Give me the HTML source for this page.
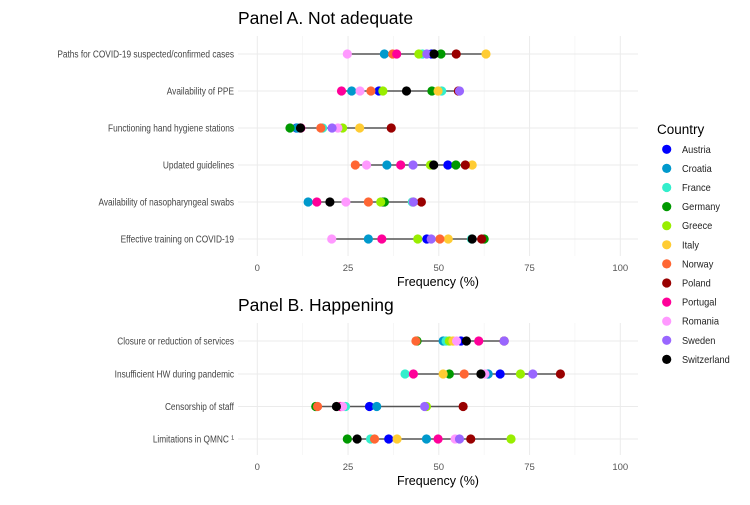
<!DOCTYPE html>
<html><head><meta charset="utf-8">
<style>
body{margin:0;background:#fff;}
svg{font-family:"Liberation Sans",sans-serif;}
</style></head>
<body>
<svg id="chart" width="750" height="500" xmlns="http://www.w3.org/2000/svg"></svg>
<script>
const countries=["Austria","Croatia","France","Germany","Greece","Italy","Norway","Poland","Portugal","Romania","Sweden","Switzerland"];
const colors=["#0000FF","#0099CC","#33EECC","#009900","#99EE00","#FFCC33","#FF6633","#990000","#FF0099","#FF99FF","#9966FF","#000000"];
const catsA=["Paths for COVID-19 suspected/confirmed cases","Availability of PPE","Functioning hand hygiene stations","Updated guidelines","Availability of nasopharyngeal swabs","Effective training on COVID-19"];
// values order follows countries
const valsA=[
[48,35,45.5,50.6,44.5,63,37.3,54.8,38.4,24.8,46.7,48.7],
[33.5,26,50.8,48.1,34.6,49.8,31.3,55.4,23.2,28.3,55.7,41.1],
[10.8,11,18,9,23.5,28.2,17.5,36.9,12,22.2,20.6,11.9],
[52.5,35.7,48,54.7,47.7,59.2,27,57.3,39.5,30.1,42.9,48.6],
[34.5,14,42.7,35,34,43,30.6,45.2,16.4,24.4,43,20],
[46.7,30.6,59,62.5,44.2,52.6,50.3,61.8,34.3,20.5,47.9,59.2]];
const catsB=["Closure or reduction of services","Insufficient HW during pandemic","Censorship of staff","Limitations in QMNC \u00b9"];
const valsB=[
[56.1,51.2,52,44,52.9,53.9,43.7,68,61,54.9,68,57.6],
[66.9,63.6,40.7,52.9,72.5,51.2,57,83.5,43,62.7,75.9,61.6],
[30.9,32.9,24.3,16.1,46.6,23,16.6,56.7,23,23.5,46.1,21.8],
[36.2,46.6,31.2,24.8,69.9,38.5,32.3,58.8,49.8,54.5,55.7,27.5]];
const ticks=[0,25,50,75,100];
const NS="http://www.w3.org/2000/svg";
const svg=document.getElementById('chart');
function mk(t,a,p){const e=document.createElementNS(NS,t);for(const k in a)e.setAttribute(k,a[k]);(p||svg).appendChild(e);return e;}
function squeeze(el,f){const w=el.getComputedTextLength();el.setAttribute('textLength',w*f);el.setAttribute('lengthAdjust','spacingAndGlyphs');}
const x=v=>257.3+v*3.63;
function panel(title,cats,vals,top,bottom,rowY,name){
  const g=mk('g',{});
  
  
  const t=mk('text',{x:238,y:top-12,'font-size':17.5,fill:'#000'},g);t.textContent=title;
  
  
  for(let v=0;v<=100;v+=12.5){mk('line',{x1:x(v),x2:x(v),y1:top,y2:bottom,stroke:v%25==0?'#ebebeb':'#f3f3f3','stroke-width':v%25==0?1:0.7},g);}
  rowY.forEach(y=>mk('line',{x1:238,x2:638,y1:y,y2:y,stroke:'#ebebeb'},g));
  ticks.forEach(v=>{const l=mk('text',{x:x(v),y:bottom+15,'font-size':9.5,fill:'#555','text-anchor':'middle'},g);l.textContent=v;
    
    });
  const at=mk('text',{x:438,y:bottom+30,'font-size':12.5,fill:'#000','text-anchor':'middle'},g);at.textContent='Frequency (%)';
  
  
  cats.forEach((c,i)=>{
    const y=rowY[i];
    const lb=mk('text',{x:234,y:y+3.5,'font-size':10,fill:'#444','text-anchor':'end'},g);lb.textContent=c;
    squeeze(lb,0.83);
    
    
    const vs=vals[i];
    const ln=mk('line',{x1:x(Math.min(...vs)),x2:x(Math.max(...vs)),y1:y,y2:y,stroke:'#555','stroke-width':1.6},g);
    
    
    vs.forEach((v,j)=>{const d=mk('circle',{cx:x(v),cy:y,r:4.6,fill:colors[j]},g);
      
      });
  });
}
panel('Panel A. Not adequate',catsA,valsA,36,256,[54,91,128,165,202,239],'panel-a');
panel('Panel B. Happening',catsB,valsB,323,455,[341,374,406.5,439],'panel-b');
const lg=mk('g',{});


const lt=mk('text',{x:657,y:134,'font-size':13.5,fill:'#000'},lg);lt.textContent='Country';


countries.forEach((c,i)=>{const y=149.3+i*19.1;
  const d=mk('circle',{cx:666.7,cy:y,r:4.6,fill:colors[i]},lg);
  
  
  const t=mk('text',{x:682,y:y+3.5,'font-size':10.5,fill:'#222'},lg);t.textContent=c;
  squeeze(t,0.88);
  
  });
</script>
</body></html>
